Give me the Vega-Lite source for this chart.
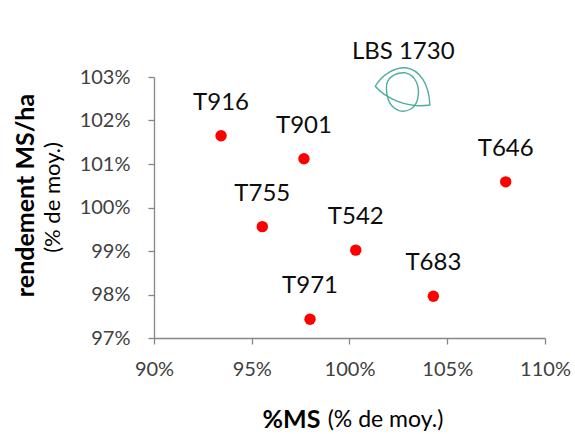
{
  "$schema": "https://vega.github.io/schema/vega-lite/v6.json",
  "width": 391,
  "height": 261,
  "autosize": {"type": "none"},
  "padding": {"left": 154, "top": 77, "right": 30, "bottom": 96},
  "background": "white",
  "config": {
    "view": {"stroke": null},
    "font": "Lato",
    "axis": {
      "grid": false,
      "labelFlush": false,
      "domainColor": "#868686",
      "domainWidth": 1.3,
      "tickColor": "#868686",
      "tickWidth": 1.3,
      "tickSize": 6,
      "labelColor": "#404040",
      "labelFont": "Lato",
      "labelFontSize": 20,
      "titleColor": "#000000",
      "titleFont": "Lato"
    }
  },
  "data": {
    "values": [
      {"name": "T916", "ms": 0.9343, "rend": 1.0165, "type": "T"},
      {"name": "T901", "ms": 0.9767, "rend": 1.0112, "type": "T"},
      {"name": "T646", "ms": 1.0799, "rend": 1.0059, "type": "T"},
      {"name": "T755", "ms": 0.9554, "rend": 0.9956, "type": "T"},
      {"name": "T542", "ms": 1.0032, "rend": 0.9902, "type": "T"},
      {"name": "T683", "ms": 1.0429, "rend": 0.9796, "type": "T"},
      {"name": "T971", "ms": 0.9798, "rend": 0.9743, "type": "T"},
      {"name": "LBS 1730", "ms": 1.0275, "rend": 1.0271, "type": "LBS"}
    ]
  },
  "resolve": {"axis": {"x": "independent", "y": "independent"}},
  "layer": [
    {
      "transform": [{"filter": "datum.type == 'T'"}],
      "mark": {"type": "point", "filled": true, "color": "#ff0000", "opacity": 1, "size": 130},
      "encoding": {
        "x": {
          "field": "ms", "type": "quantitative",
          "scale": {"domain": [0.9, 1.1], "nice": false, "zero": false},
          "axis": {
            "values": [0.9, 0.95, 1.0, 1.05, 1.1], "format": ".0%",
            "labelPadding": 15,
            "title": "%MS", "titleFontWeight": "bold", "titleFontSize": 25,
            "titleX": 137, "titleY": 81, "titleBaseline": "middle", "titleAlign": "center"
          }
        },
        "y": {
          "field": "rend", "type": "quantitative",
          "scale": {"domain": [0.97, 1.03], "nice": false, "zero": false},
          "axis": {
            "values": [0.97, 0.98, 0.99, 1.0, 1.01, 1.02, 1.03], "format": ".0%",
            "labelPadding": 18,
            "title": "rendement MS/ha", "titleFontWeight": "bold", "titleFontSize": 25,
            "titleX": -129, "titleY": 118, "titleAngle": 270, "titleBaseline": "middle", "titleAlign": "center"
          }
        }
      }
    },
    {
      "transform": [{"filter": "datum.type == 'LBS'"}],
      "mark": {
        "type": "point", "filled": false, "stroke": "#4fae9a", "strokeWidth": 1.4, "opacity": 1, "size": 3136,
        "shape": "M -1 -0.12 C -0.75 -0.55 -0.3 -0.8 0.1 -0.78 C 0.6 -0.7 0.92 -0.2 0.95 0.55 C 0.55 0.62 0.15 0.55 -0.2 0.42 C -0.55 0.28 -0.8 0.12 -1 -0.12 Z M -0.6 -0.05 C -0.62 -0.45 -0.25 -0.62 0.08 -0.6 C 0.45 -0.52 0.6 -0.1 0.52 0.3 C 0.45 0.7 0.1 0.82 -0.15 0.75 C -0.48 0.62 -0.6 0.3 -0.6 -0.05 Z"
      },
      "encoding": {
        "x": {"field": "ms", "type": "quantitative", "axis": null},
        "y": {"field": "rend", "type": "quantitative", "axis": null}
      }
    },
    {
      "transform": [{"filter": "datum.type == 'T'"}],
      "mark": {"type": "text", "dy": -33, "fontSize": 24, "color": "#0d0d0d", "baseline": "middle", "align": "center"},
      "encoding": {
        "x": {
          "field": "ms", "type": "quantitative",
          "axis": {
            "orient": "top", "labels": false, "ticks": false, "domain": false,
            "title": "(% de moy.)", "titleFontWeight": "normal", "titleFontSize": 23,
            "titleX": 231, "titleY": 342, "titleBaseline": "middle", "titleAlign": "center"
          }
        },
        "y": {
          "field": "rend", "type": "quantitative",
          "axis": {
            "orient": "right", "labels": false, "ticks": false, "domain": false,
            "title": "(% de moy.)", "titleFontWeight": "normal", "titleFontSize": 22,
            "titleX": -493, "titleY": 120, "titleAngle": 270, "titleBaseline": "middle", "titleAlign": "center"
          }
        },
        "text": {"field": "name"}
      }
    },
    {
      "transform": [{"filter": "datum.type == 'LBS'"}],
      "mark": {"type": "text", "dy": -38, "fontSize": 24, "color": "#0d0d0d", "baseline": "middle", "align": "center"},
      "encoding": {
        "x": {"field": "ms", "type": "quantitative", "axis": null},
        "y": {"field": "rend", "type": "quantitative", "axis": null},
        "text": {"field": "name"}
      }
    }
  ]
}
